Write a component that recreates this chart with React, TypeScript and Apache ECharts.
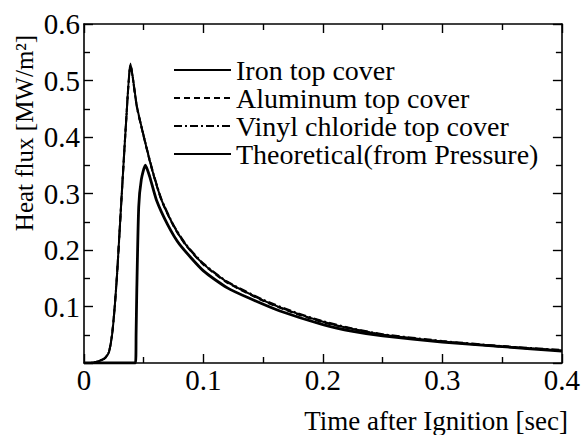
import React, { useEffect, useRef } from "react";
import * as echarts from "echarts";

// Time [sec] for the measured curves
const timeExp = [0, 0.005, 0.01, 0.015, 0.018, 0.021, 0.0235, 0.0257, 0.0277, 0.0318, 0.0355, 0.0389, 0.0444, 0.0528, 0.058, 0.065, 0.075, 0.085, 0.1, 0.12, 0.15, 0.175, 0.2, 0.225, 0.25, 0.3, 0.35, 0.4];
// Heat flux [MW/m2]
const ironFlux = [0, 0, 0.002, 0.005, 0.009, 0.02, 0.05, 0.099, 0.158, 0.306, 0.436, 0.53, 0.453, 0.377, 0.335, 0.288, 0.243, 0.21, 0.175, 0.143, 0.111, 0.09, 0.073, 0.06, 0.05, 0.038, 0.029, 0.022];
const aluminumFlux = [0, 0, 0.002, 0.005, 0.01, 0.021, 0.051, 0.1, 0.159, 0.307, 0.437, 0.528, 0.452, 0.376, 0.334, 0.287, 0.242, 0.209, 0.174, 0.142, 0.11, 0.089, 0.072, 0.06, 0.05, 0.038, 0.029, 0.022];
const vinylFlux = [0, 0, 0.002, 0.006, 0.01, 0.02, 0.05, 0.098, 0.157, 0.305, 0.435, 0.527, 0.451, 0.378, 0.336, 0.289, 0.244, 0.211, 0.176, 0.144, 0.112, 0.091, 0.074, 0.061, 0.051, 0.039, 0.03, 0.023];
// Theoretical curve (from pressure)
const timeTheory = [0, 0.0431, 0.0436, 0.0442, 0.0458, 0.048, 0.0514, 0.055, 0.0607, 0.07, 0.08, 0.1, 0.12, 0.139, 0.164, 0.2, 0.225, 0.25, 0.3, 0.35, 0.4];
const theoryFlux = [0, 0, 0.05, 0.13, 0.276, 0.325, 0.35, 0.33, 0.288, 0.245, 0.21, 0.163, 0.133, 0.114, 0.092, 0.068, 0.056, 0.048, 0.037, 0.029, 0.021];

const seriesNames = ["Iron top cover", "Aluminum top cover", "Vinyl chloride top cover", "Theoretical(from Pressure)"];
const xTitle = "Time after Ignition [sec]";
const yTitle = "Heat flux [MW/m²]";

const FONT = "Liberation Serif";

function pairs(xs: number[], ys: number[]) {
  return xs.map((x, i) => [x, ys[i]]);
}

const fmt = (v: number) => (v === 0 ? "0" : v.toFixed(1));

export default function App() {
  const ref = useRef<HTMLDivElement>(null);
  useEffect(() => {
    if (!ref.current) return;
    const chart = echarts.init(ref.current, undefined, { renderer: "svg" });
    const axisLine = { show: true, onZero: false, lineStyle: { color: "#000", width: 1.6 } };
    const tick = { show: true, inside: true, length: 9, lineStyle: { color: "#000", width: 1.4 } };
    const minor = { show: true, splitNumber: 2, length: 6, lineStyle: { color: "#000", width: 1.4 } };
    const label = { fontSize: 29, fontFamily: FONT, color: "#000" };
    chart.setOption({
      animation: false,
      backgroundColor: "#fff",
      grid: { left: 84, right: 21, top: 24, bottom: 72 },
      xAxis: [
        {
          type: "value", min: 0, max: 0.4, interval: 0.1, position: "bottom",
          axisLine, axisTick: tick, minorTick: minor, splitLine: { show: false },
          axisLabel: { ...label, margin: 2, formatter: fmt, showMinLabel: true, showMaxLabel: true },
        },
        {
          type: "value", min: 0, max: 0.4, interval: 0.1, position: "top",
          axisLine, axisTick: tick, minorTick: minor, splitLine: { show: false },
          axisLabel: { show: false },
        },
      ],
      yAxis: [
        {
          type: "value", min: 0, max: 0.6, interval: 0.1, position: "left",
          axisLine, axisTick: tick, minorTick: minor, splitLine: { show: false },
          axisLabel: { ...label, margin: 4, formatter: fmt, showMinLabel: false },
        },
        {
          type: "value", min: 0, max: 0.6, interval: 0.1, position: "right",
          axisLine, axisTick: tick, minorTick: minor, splitLine: { show: false },
          axisLabel: { show: false },
        },
      ],
      legend: {
        orient: "vertical",
        left: 168,
        top: 51,
        itemWidth: 57,
        itemHeight: 14,
        itemGap: 0,
        itemStyle: { opacity: 0 },
        textStyle: { fontSize: 28, fontFamily: FONT, color: "#000", lineHeight: 27 },
        data: seriesNames,
      },
      series: [
        {
          name: seriesNames[0], type: "line", xAxisIndex: 0, yAxisIndex: 0, symbol: "none", smooth: 0.2,
          lineStyle: { color: "#000", width: 2, type: "solid" }, itemStyle: { color: "#000" },
          data: pairs(timeExp, ironFlux),
        },
        {
          name: seriesNames[1], type: "line", xAxisIndex: 0, yAxisIndex: 0, symbol: "none", smooth: 0.2,
          lineStyle: { color: "#000", width: 2, type: [6, 4] }, itemStyle: { color: "#000" },
          data: pairs(timeExp, aluminumFlux),
        },
        {
          name: seriesNames[2], type: "line", xAxisIndex: 0, yAxisIndex: 0, symbol: "none", smooth: 0.2,
          lineStyle: { color: "#000", width: 2, type: [8, 3, 2, 3] }, itemStyle: { color: "#000" },
          data: pairs(timeExp, vinylFlux),
        },
        {
          name: seriesNames[3], type: "line", xAxisIndex: 0, yAxisIndex: 0, symbol: "none", smooth: 0.2,
          lineStyle: { color: "#000", width: 2.8, type: "solid" }, itemStyle: { color: "#000" },
          data: pairs(timeTheory, theoryFlux),
        },
      ],
      graphic: [
        {
          type: "text", x: 24, y: 133, rotation: Math.PI / 2,
          style: { text: yTitle, fontSize: 25, fontFamily: FONT, fill: "#000", align: "center", verticalAlign: "middle" },
        },
        {
          type: "text", x: 568, y: 421,
          style: { text: xTitle, fontSize: 27, fontFamily: FONT, fill: "#000", align: "right", verticalAlign: "middle" },
        },
      ],
    });
    return () => chart.dispose();
  }, []);
  return (
    <div
      ref={ref}
      style={{ position: "fixed", left: 0, top: 0, width: 583, height: 435, background: "#fff" }}
    />
  );
}
